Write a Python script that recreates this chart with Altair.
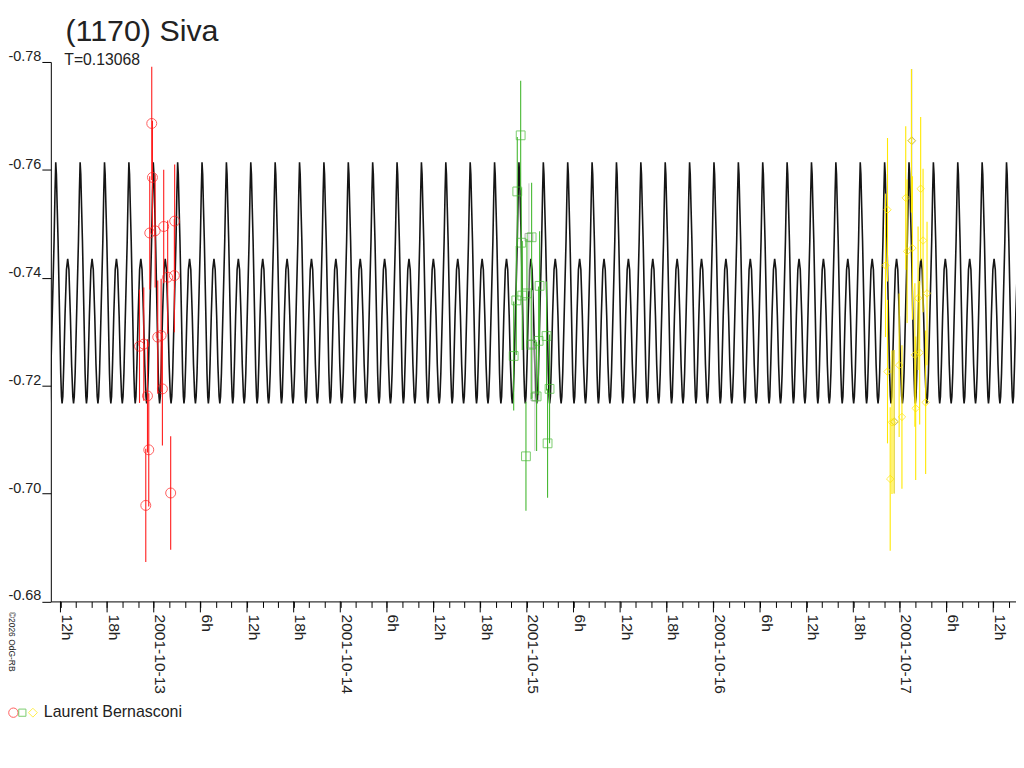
import numpy as np
import pandas as pd
import altair as alt

# (1170) Siva - Laurent Bernasconi, October 2001
title = "(1170) Siva"
subtitle = "T=0.13068"
observer = "Laurent Bernasconi"
credit = "\u00a92026 OdG-RB"

period = 0.13068   # days
epoch = 12.4747    # a deep maximum of the model, day of Oct 2001 (UT)

# one cycle of the model curve, phase counted from the deep maximum
cycle_phase = [0.000, 0.027, 0.060, 0.095, 0.150, 0.204, 0.235, 0.260, 0.290, 0.330, 0.380, 0.440,
               0.490, 0.540, 0.600, 0.650, 0.700, 0.730, 0.760, 0.796, 0.864, 0.932, 0.970]
cycle_mag = [-0.7614, -0.7592, -0.7530, -0.7469, -0.7346, -0.7223, -0.7180, -0.7167, -0.7180, -0.7240,
             -0.7330, -0.7415, -0.7435, -0.7415, -0.7330, -0.7240, -0.7180, -0.7167, -0.7180, -0.7223,
             -0.7346, -0.7469, -0.7560]

# observations: day of October 2001 (UT), relative magnitude
night1_day = [12.9893, 12.9931, 12.9786, 13.0075, 13.0534, 13.1121, 13.1105, 13.0747, 13.0214,
              13.0395, 12.9237, 12.9466, 12.9664, 13.0464, 12.9733, 13.0908, 12.9573]
night1_mag = [-0.7686, -0.7586, -0.7483, -0.7487, -0.7495, -0.7505, -0.7404, -0.7401, -0.7290,
              -0.7293, -0.7273, -0.7277, -0.7181, -0.7194, -0.7081, -0.7001, -0.6978]
night1_err = 0.0105

night2_day = [14.9669, 14.9487, 14.9701, 15.0256, 14.9434, 14.9754, 15.0005, 15.0683, 14.9295,
              15.0235, 15.0630, 15.1057, 15.0523, 15.1217, 14.9952, 15.1111]
night2_mag = [-0.7664, -0.7560, -0.7465, -0.7475, -0.7358, -0.7367, -0.7371, -0.7385, -0.7255,
              -0.7276, -0.7283, -0.7292, -0.7180, -0.7194, -0.7069, -0.7093]
night2_err = 0.0101

night3_day = [17.0614, 17.1111, 17.0310, 16.9333, 17.1239, 17.0667, 17.0384, 16.9226, 17.1452,
              17.0972, 17.1057, 17.0801, 16.9333, 16.9957, 17.1378, 17.0844, 17.0107, 16.9573,
              16.9680, 16.9477]
night3_mag = [-0.7654, -0.7565, -0.7548, -0.7526, -0.7469, -0.7455, -0.7449, -0.7423, -0.7371,
              -0.7362, -0.7261, -0.7257, -0.7226, -0.7238, -0.7169, -0.7158, -0.7142, -0.7132,
              -0.7133, -0.7027]
night3_err = 0.0133

# points shown in grey
grey_day = [15.0112, 15.0299, 15.0432, 17.0641, 16.9706]
grey_mag = [-0.7475, -0.7277, -0.7179, -0.7654, -0.7133]
grey_err = [0.0100, 0.0100, 0.0100, 0.0133, 0.0133]
grey_shape = ["square", "square", "square", "diamond", "diamond"]

nights = ["2001-10-12", "2001-10-14", "2001-10-16"]
colors = ["#ff1c1c", "#46b832", "#ffe800"]
shapes = ["circle", "square", "diamond"]
sizes = [100, 56, 80]

x_ticks = list(range(-12, 111, 2))           # hours from 2001-10-13 0h
x_major = list(range(-12, 111, 6))
y_ticks = [-0.78, -0.76, -0.74, -0.72, -0.70, -0.68]

# model curve, the cycle repeated along the time axis
x_lo, x_hi = -13.24, 110.93
k0 = int(np.floor((13 + x_lo / 24 - epoch) / period)) - 1
k1 = int(np.ceil((13 + x_hi / 24 - epoch) / period)) + 1
rows = []
for k in range(k0, k1 + 1):
    for ph, m in zip(cycle_phase, cycle_mag):
        rows.append(((epoch + (k + ph) * period - 13) * 24, m))
model = pd.DataFrame(rows, columns=["h", "mag"])

obs = pd.concat([
    pd.DataFrame({"day": night1_day, "mag": night1_mag, "err": night1_err, "night": nights[0]}),
    pd.DataFrame({"day": night2_day, "mag": night2_mag, "err": night2_err, "night": nights[1]}),
    pd.DataFrame({"day": night3_day, "mag": night3_mag, "err": night3_err, "night": nights[2]}),
], ignore_index=True)
grey = pd.DataFrame({"day": grey_day, "mag": grey_mag, "err": grey_err, "shape": grey_shape})
for df in (obs, grey):
    df["h"] = (df["day"] - 13) * 24
    df["lo"] = df["mag"] - df["err"]
    df["hi"] = df["mag"] + df["err"]

font = "Liberation Sans"
H = 541.6
xscale = alt.Scale(domain=[x_lo, x_hi], nice=False, zero=False)
yscale = alt.Scale(domain=[-0.78, -0.68], reverse=True, nice=False, zero=False)
xaxis = alt.Axis(values=x_ticks, title=None, grid=False, tickSize=6, tickColor="black",
                 domainColor="black", labelAngle=90, labelAlign="left",
                 labelBaseline="alphabetic", labelPadding=6.7, labelOffset=1,
                 labelFont=font, labelFontSize=15.6, labelColor="#222",
                 labelOverlap=False, labelFlush=False,
                 labelExpr="datum.value % 6 != 0 ? '' : (datum.value % 24 == 0 ? "
                           "'2001-10-' + (13 + datum.value / 24) : "
                           "((datum.value % 24) + 24) % 24 + 'h')")
yaxis = alt.Axis(values=y_ticks, title=None, grid=False, tickSize=9, tickColor="black",
                 domainColor="black", labelPadding=1, labelBaseline="alphabetic",
                 labelOffset=-1.5, labelFont=font, labelFontSize=14.5, labelColor="#222",
                 labelExpr="'-' + format(abs(datum.value), '.2f')")
X = alt.X("h:Q", scale=xscale, axis=xaxis)
Y = alt.Y("mag:Q", scale=yscale, axis=yaxis)
Ylo = alt.Y("lo:Q", scale=yscale, axis=yaxis)

curve = alt.Chart(model).mark_line(color="#151515", strokeWidth=1.6, clip=True).encode(x=X, y=Y)

# longer ticks under the labelled hours
major = alt.Chart(pd.DataFrame({"h": x_major})).mark_rule(color="black", strokeWidth=1).encode(
    x=X, y=alt.value(H), y2=alt.value(H + 11))

grey_bars = alt.Chart(grey).mark_rule(color="#c8c8c8", strokeWidth=1).encode(x=X, y=Ylo, y2="hi:Q")
grey_pts = alt.Chart(grey).mark_point(filled=False, color="#8a8a8a", size=60, strokeWidth=1).encode(
    x=X, y=Y, shape=alt.Shape("shape:N", scale=None))

color = alt.Color("night:N", scale=alt.Scale(domain=nights, range=colors), legend=None)
bars = alt.Chart(obs).mark_rule(strokeWidth=1.1).encode(x=X, y=Ylo, y2="hi:Q", color=color)
pts = alt.Chart(obs).mark_point(filled=False, strokeWidth=1).encode(
    x=X, y=Y, color=color,
    shape=alt.Shape("night:N", scale=alt.Scale(domain=nights, range=shapes), legend=None),
    size=alt.Size("night:N", scale=alt.Scale(domain=nights, range=sizes), legend=None))

one = pd.DataFrame({"t": [0]})


def label(text, x, y, size, **kw):
    return alt.Chart(one).mark_text(text=text, font=font, fontSize=size, color="#222",
                                    align="left", baseline="alphabetic", **kw).encode(
        x=alt.value(x), y=alt.value(y))


def key(shape, col, size, x, y):
    return alt.Chart(one).mark_point(shape=shape, filled=False, color=col, size=size,
                                     strokeWidth=1).encode(x=alt.value(x), y=alt.value(y))


texts = [
    label(title, 14.7, -20.7, 30.5),
    label(subtitle, 13.5, 2.6, 15.8),
    label(observer, -7, 657.6, 16),
    label(credit, -42, 552, 8.5, angle=90),
]
keys = [key(s, c, z, x, 653.3) for s, c, z, x in zip(shapes, colors, [88, 52, 80], [-37.6, -28.6, -18])]

chart = alt.layer(curve, major, grey_bars, grey_pts, bars, pts, *texts, *keys).properties(
    width=969, height=H,
    autosize=alt.AutoSizeParams(type="none"),
    padding={"left": 43, "top": 52.7, "right": 0, "bottom": 150},
    background="white",
).configure_view(stroke="transparent")

chart.save("out.html", embed_options={"renderer": "svg", "actions": False})
